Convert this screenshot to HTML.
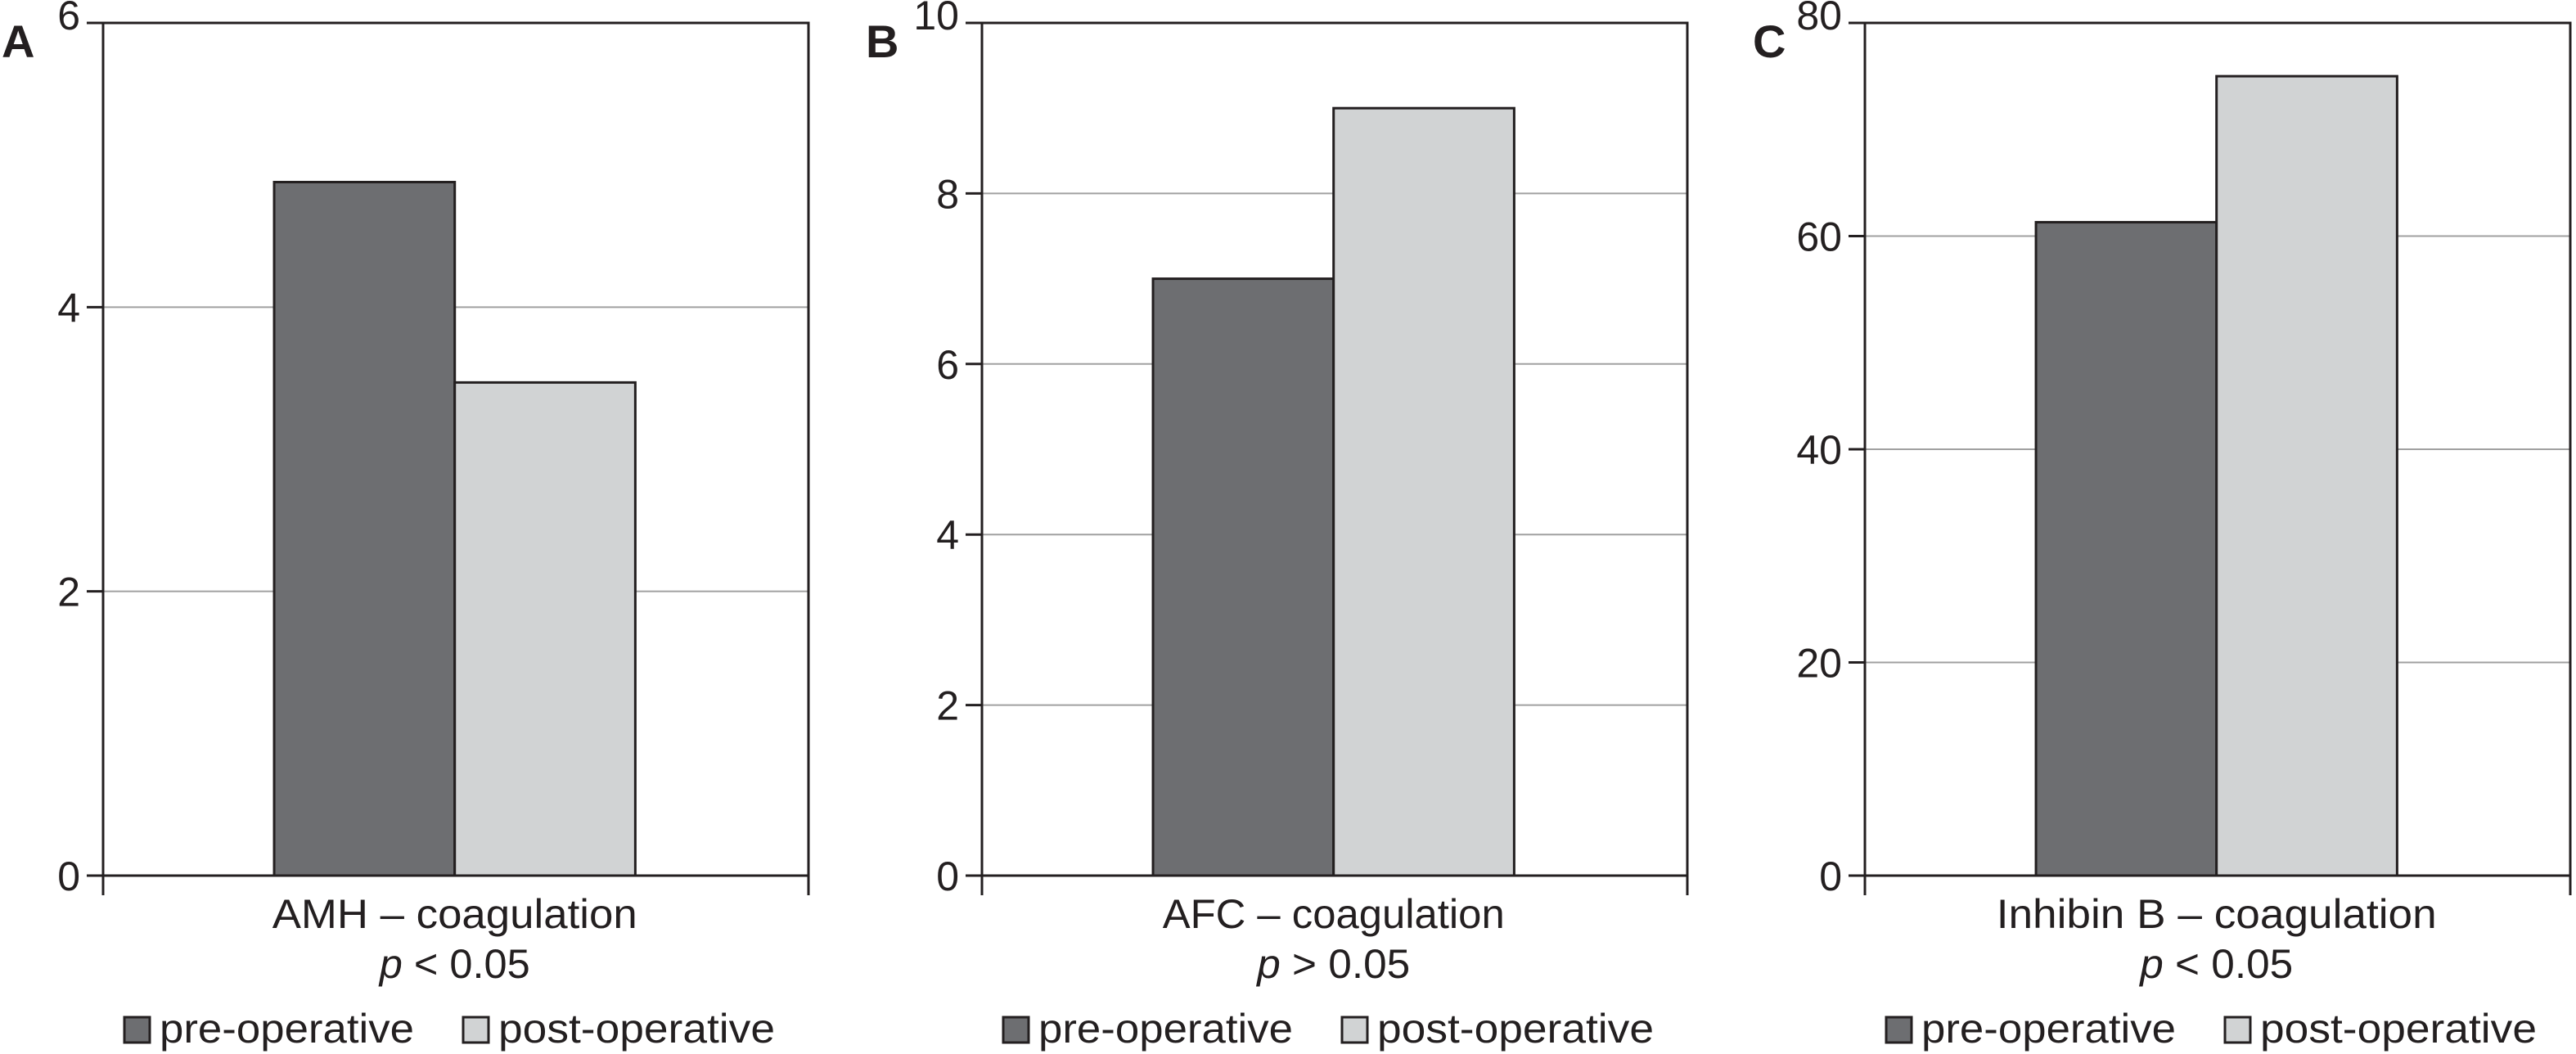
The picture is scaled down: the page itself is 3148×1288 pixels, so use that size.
<!DOCTYPE html>
<html><head><meta charset="utf-8"><style>
html,body{margin:0;padding:0;background:#fff;}
svg{display:block;font-family:"Liberation Sans",sans-serif;}
</style></head><body>
<svg id="fig" width="3148" height="1288" viewBox="0 0 3148 1288" xmlns="http://www.w3.org/2000/svg"></svg>
<script>
const panelLetters = ["A","B","C"];
const categories = ["AMH \u2013 coagulation","AFC \u2013 coagulation","Inhibin B \u2013 coagulation"];
const pValues = ["< 0.05","> 0.05","< 0.05"];
const preValues = [4.88, 7.0, 61.3];
const postValues = [3.47, 9.0, 75.0];
const yMaxes = [6, 10, 80];
const yTickLists = [[0,2,4,6],[0,2,4,6,8,10],[0,20,40,60,80]];
const seriesNames = ["pre-operative","post-operative"];

const NS="http://www.w3.org/2000/svg";
const svg=document.getElementById('fig');
function mk(tag,attrs,parent){const e=document.createElementNS(NS,tag);for(const k in attrs)e.setAttribute(k,attrs[k]);(parent||svg).appendChild(e);return e;}
const axisX=[126,1200,2279], plotW=862, yTop=28, yZero=1070;
const letterX=[2,1058,2142];
const catW=[446,418,538], pW=[184,187,187];
for(let i=0;i<3;i++){
  const g=mk('g',{});
  
  
  const x0=axisX[i], x1=x0+plotW;
  const yS=v=>yZero-(v/yMaxes[i])*(yZero-yTop);
  const barX=f=>x0+f*plotW;
  const lt=mk('text',{x:letterX[i],y:70,'font-size':56,'font-weight':'bold',fill:'#231f20'},g);lt.textContent=panelLetters[i];
  
  
  yTickLists[i].forEach(t=>{
    if(t>0&&t<yMaxes[i]){const gl=mk('line',{x1:x0,x2:x1,y1:yS(t),y2:yS(t),stroke:'#a0a0a0','stroke-width':2},g);
      
      }
    const tk=mk('line',{x1:x0-20,x2:x0,y1:yS(t),y2:yS(t),stroke:'#231f20','stroke-width':3},g);
    
    
    const tl=mk('text',{x:x0-28,y:yS(t)+(t==yMaxes[i]?8:18),'font-size':50,'text-anchor':'end',fill:'#231f20'},g);tl.textContent=t;
    
    
  });
  const vals=[preValues[i],postValues[i]], fills=['#6d6e71','#d1d3d4'];
  const bx=[0.2425,0.4985];
  vals.forEach((v,k)=>{
    const b=mk('rect',{x:barX(bx[k]),y:yS(v),width:plotW*0.256,height:yZero-yS(v),fill:fills[k],stroke:'#231f20','stroke-width':3},g);
    
    
  });
  const fr=mk('path',{d:`M${x0-20} ${yTop}H${x1}V${yZero+24}M${x0} ${yTop}V${yZero+24}M${x0-20} ${yZero}H${x1}`,fill:'none',stroke:'#231f20','stroke-width':3},g);
  
  
  const cx=barX(0.4985);
  const ct=mk('text',{x:cx,y:1134,'font-size':50,'text-anchor':'middle',fill:'#231f20',textLength:catW[i],lengthAdjust:'spacingAndGlyphs'},g);ct.textContent=categories[i];
  
  
  const pt=mk('text',{x:cx,y:1195,'font-size':50,'text-anchor':'middle',fill:'#231f20',textLength:pW[i],lengthAdjust:'spacingAndGlyphs'},g);
  const ps=mk('tspan',{'font-style':'italic'},pt);ps.textContent='p';
  const pr=mk('tspan',{},pt);pr.textContent=' '+pValues[i];
  
  
  const lx=[x0+26,x0+440], tw=[311,338];
  seriesNames.forEach((s,k)=>{
    const sw=mk('rect',{x:lx[k],y:1243,width:31,height:31,fill:fills[k],stroke:'#231f20','stroke-width':3},g);
    
    
    const t=mk('text',{x:lx[k]+43,y:1274,'font-size':50,fill:'#231f20',textLength:tw[k],lengthAdjust:'spacingAndGlyphs'},g);t.textContent=s;
    
    
  });
}
</script>
</body></html>
